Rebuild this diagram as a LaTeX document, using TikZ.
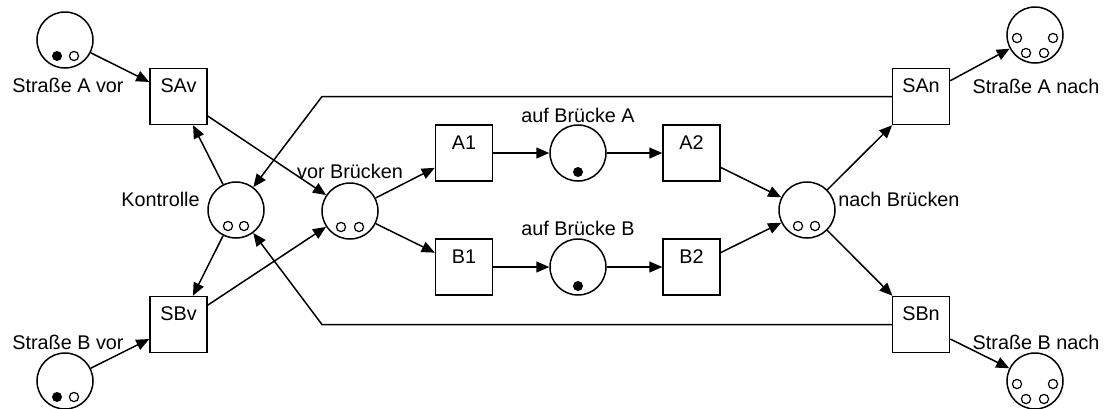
\documentclass[tikz,border=0pt]{standalone}
\usepackage{fontspec}
\setmainfont{Liberation Sans}
\usetikzlibrary{arrows.meta}

\tikzset{
  place/.style={draw, circle, minimum size=28pt, inner sep=0pt},
  trans/.style={draw, rectangle, minimum width=28.5pt, inner xsep=0pt,
    inner ysep=5pt, text height=7pt, text depth=11pt},
  arc/.style={-{Triangle[length=6.5pt,width=5.5pt]}},
  tokw/.style={fill=white, line width=0.6pt}
}

\begin{document}
\begin{tikzpicture}[x=0.5pt, y=-0.5pt, line width=0.75pt,
    font=\fontsize{9.9pt}{11pt}\selectfont]
  \useasboundingbox (0,0) rectangle (1104,408);

  % places
  \node[place] (pAv)  at (65,40)   {};
  \node[place] (pBv)  at (65,381)  {};
  \node[place] (kontr) at (236,210) {};
  \node[place] (vorB) at (350,211) {};
  \node[place] (aufA) at (578,153) {};
  \node[place] (aufB) at (578,267) {};
  \node[place] (nachB) at (807,210) {};
  \node[place] (pAn)  at (1035,35)  {};
  \node[place] (pBn)  at (1035,381) {};

  % transitions
  \node[trans] (SAv) at (178.5,96.5)  {SAv};
  \node[trans] (SBv) at (178.5,324.5) {SBv};
  \node[trans] (A1)  at (464,153)     {A1};
  \node[trans] (B1)  at (464,267)     {B1};
  \node[trans] (A2)  at (691.5,153)   {A2};
  \node[trans] (B2)  at (691.5,267)   {B2};
  \node[trans] (SAn) at (921,96.5)    {SAn};
  \node[trans] (SBn) at (921,324.5)   {SBn};

  % place labels
  \node (lAv)   at (68,85)    {Straße A vor};
  \node (lBv)   at (68,342)   {Straße B vor};
  \node[anchor=east] (lKontr) at (207,199) {Kontrolle};
  \node (lVorB) at (350,171)  {vor Brücken};
  \node (lAufA) at (578,115)  {auf Brücke A};
  \node (lAufB) at (578,228)  {auf Brücke B};
  \node[anchor=west] (lNachB) at (831,199) {nach Brücken};
  \node (lAn)   at (1036,86)  {Straße A nach};
  \node (lBn)   at (1036,342) {Straße B nach};

  % tokens
  \foreach \p in {pAv, pBv}
    \fill ([shift={(-8,16)}]\p.center) circle (2.5pt);
  \foreach \p in {aufA, aufB}
    \fill ([shift={(0,19)}]\p.center) circle (2.5pt);
  \foreach \p/\dx in {pAv/9, pBv/9, kontr/-8, kontr/8, vorB/-9, vorB/9, nachB/-9, nachB/8}
    \draw[tokw] ([shift={(\dx,16)}]\p.center) circle (2.3pt);
  \foreach \p in {pAn, pBn}
    \foreach \dx/\dy in {-18/3, 18/3, -9/18, 9/18}
      \draw[tokw] ([shift={(\dx,\dy)}]\p.center) circle (2.3pt);

  % arcs
  \draw[arc] (pAv) -- (SAv);
  \draw[arc] (pBv) -- (SBv);
  \draw[arc] (kontr) -- (SAv);
  \draw[arc] (kontr) -- (SBv);
  \draw[arc] (SAv) -- (vorB);
  \draw[arc] (SBv) -- (vorB);
  \draw[arc] (vorB) -- (A1);
  \draw[arc] (vorB) -- (B1);
  \draw[arc] (A1) -- (aufA);
  \draw[arc] (aufA) -- (A2);
  \draw[arc] (B1) -- (aufB);
  \draw[arc] (aufB) -- (B2);
  \draw[arc] (A2) -- (nachB);
  \draw[arc] (B2) -- (nachB);
  \draw[arc] (nachB) -- (SAn);
  \draw[arc] (nachB) -- (SBn);
  \draw[arc] (SAn) -- (pAn);
  \draw[arc] (SBn) -- (pBn);
  % back to Kontrolle
  \coordinate (kA) at (322,96.5);
  \coordinate (kB) at (322,324.5);
  \draw[arc] (SAn.west) -- (kA) -- (kontr);
  \draw[arc] (SBn.west) -- (kB) -- (kontr);
\end{tikzpicture}
\end{document}
